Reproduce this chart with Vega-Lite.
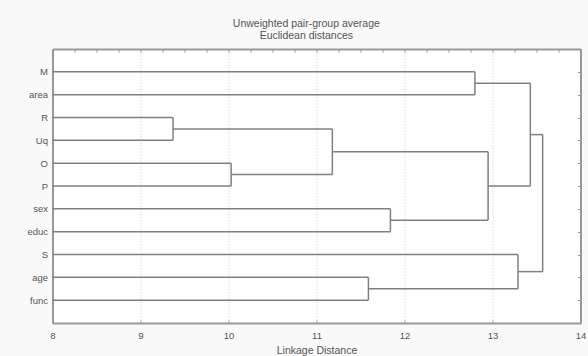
{
  "$schema": "https://vega.github.io/schema/vega-lite/v6.json",
  "autosize": {"type": "none"},
  "width": 528,
  "height": 274,
  "padding": {"left": 52.5, "top": 49, "right": 7.5, "bottom": 33},
  "background": "#f9f9f9",
  "view": {"fill": "white", "stroke": null},
  "config": {
    "font": "Liberation Sans",
    "axis": {"labelFont": "Liberation Sans", "titleFont": "Liberation Sans", "labelColor": "#555", "titleColor": "#555", "domainColor": "#999", "domainWidth": 2, "tickColor": "#999"}
  },
  "title": {
    "text": ["Unweighted pair-group average", "Euclidean distances"],
    "fontSize": 10.5,
    "fontWeight": "normal",
    "color": "#555",
    "font": "Liberation Sans",
    "lineHeight": 12.5,
    "frame": "bounds",
    "anchor": "middle",
    "offset": 7
  },
  "datasets": {
    "h": [
      {"d1": 8, "d2": 12.80, "p1": 0, "p2": 0},
      {"d1": 8, "d2": 12.80, "p1": 1, "p2": 1},
      {"d1": 8, "d2": 9.37, "p1": 2, "p2": 2},
      {"d1": 8, "d2": 9.37, "p1": 3, "p2": 3},
      {"d1": 8, "d2": 10.03, "p1": 4, "p2": 4},
      {"d1": 8, "d2": 10.03, "p1": 5, "p2": 5},
      {"d1": 8, "d2": 11.84, "p1": 6, "p2": 6},
      {"d1": 8, "d2": 11.84, "p1": 7, "p2": 7},
      {"d1": 8, "d2": 13.29, "p1": 8, "p2": 8},
      {"d1": 8, "d2": 11.59, "p1": 9, "p2": 9},
      {"d1": 8, "d2": 11.59, "p1": 10, "p2": 10},
      {"d1": 9.37, "d2": 11.18, "p1": 2.5, "p2": 2.5},
      {"d1": 10.03, "d2": 11.18, "p1": 4.5, "p2": 4.5},
      {"d1": 11.18, "d2": 12.95, "p1": 3.5, "p2": 3.5},
      {"d1": 11.84, "d2": 12.95, "p1": 6.5, "p2": 6.5},
      {"d1": 12.80, "d2": 13.43, "p1": 0.5, "p2": 0.5},
      {"d1": 12.95, "d2": 13.43, "p1": 5.0, "p2": 5.0},
      {"d1": 11.59, "d2": 13.29, "p1": 9.5, "p2": 9.5},
      {"d1": 13.43, "d2": 13.57, "p1": 2.75, "p2": 2.75},
      {"d1": 13.29, "d2": 13.57, "p1": 8.75, "p2": 8.75}
    ],
    "v": [
      {"d1": 12.80, "d2": 12.80, "p1": 0, "p2": 1},
      {"d1": 9.37, "d2": 9.37, "p1": 2, "p2": 3},
      {"d1": 10.03, "d2": 10.03, "p1": 4, "p2": 5},
      {"d1": 11.84, "d2": 11.84, "p1": 6, "p2": 7},
      {"d1": 11.59, "d2": 11.59, "p1": 9, "p2": 10},
      {"d1": 11.18, "d2": 11.18, "p1": 2.5, "p2": 4.5},
      {"d1": 12.95, "d2": 12.95, "p1": 3.5, "p2": 6.5},
      {"d1": 13.43, "d2": 13.43, "p1": 0.5, "p2": 5.0},
      {"d1": 13.29, "d2": 13.29, "p1": 8, "p2": 9.5},
      {"d1": 13.57, "d2": 13.57, "p1": 2.75, "p2": 8.75}
    ]
  },
  "resolve": {"axis": {"x": "independent", "y": "independent"}},
  "layer": [
    {
      "data": {"name": "h"},
      "mark": {"type": "rule", "color": "#808080", "strokeWidth": 1.5},
      "encoding": {
        "x": {
          "field": "d1", "type": "quantitative",
          "scale": {"domain": [8, 14], "nice": false, "zero": false},
          "axis": {
            "orient": "bottom",
            "title": "Linkage Distance",
            "titleFontSize": 10.5,
            "titleFontWeight": "normal",
            "titlePadding": 6,
            "values": [8, 8.25, 8.5, 8.75, 9, 9.25, 9.5, 9.75, 10, 10.25, 10.5, 10.75, 11, 11.25, 11.5, 11.75, 12, 12.25, 12.5, 12.75, 13, 13.25, 13.5, 13.75, 14],
            "format": "d",
            "labelExpr": "datum.value % 1 === 0 ? format(datum.value, 'd') : ''",
            "labelOverlap": false,
            "labelFlush": false,
            "labelFontSize": 9.5,
            "labelPadding": 10,
            "tickSize": -3,
            "grid": true,
            "gridColor": "#c8c8c8",
            "gridDash": [1, 2],
            "gridOpacity": {"condition": {"test": "datum.value % 1 === 0", "value": 1}, "value": 0}
          }
        },
        "x2": {"field": "d2"},
        "y": {
          "field": "p1", "type": "quantitative",
          "scale": {"domain": [-1, 11], "nice": false, "zero": false, "reverse": true},
          "axis": {
            "orient": "left",
            "title": null,
            "values": [0, 1, 2, 3, 4, 5, 6, 7, 8, 9, 10],
            "labelExpr": "['M','area','R','Uq','O','P','sex','educ','S','age','func'][datum.value]",
            "labelFontSize": 9.5,
            "labelPadding": 5,
            "ticks": false,
            "grid": false
          }
        },
        "y2": {"field": "p2"}
      }
    },
    {
      "data": {"name": "v"},
      "mark": {"type": "rule", "color": "#808080", "strokeWidth": 1.5},
      "encoding": {
        "x": {
          "field": "d1", "type": "quantitative",
          "axis": {
            "orient": "top",
            "title": null,
            "values": [8, 8.25, 8.5, 8.75, 9, 9.25, 9.5, 9.75, 10, 10.25, 10.5, 10.75, 11, 11.25, 11.5, 11.75, 12, 12.25, 12.5, 12.75, 13, 13.25, 13.5, 13.75, 14],
            "labels": false,
            "tickSize": -3,
            "grid": false
          }
        },
        "x2": {"field": "d2"},
        "y": {
          "field": "p1", "type": "quantitative",
          "axis": {
            "orient": "right",
            "title": null,
            "values": [0, 1, 2, 3, 4, 5, 6, 7, 8, 9, 10],
            "labels": false,
            "tickSize": -3,
            "grid": false
          }
        },
        "y2": {"field": "p2"}
      }
    }
  ]
}
